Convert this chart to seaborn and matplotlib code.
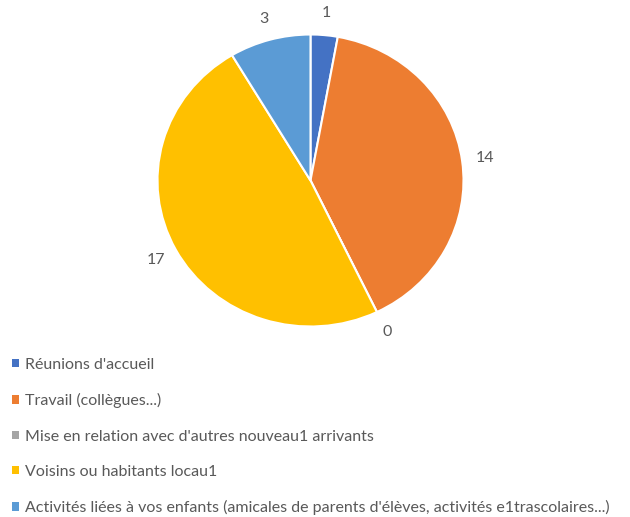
import matplotlib
matplotlib.use("Agg")
import matplotlib.pyplot as plt
import seaborn as sns

categories = [
    "Réunions d'accueil",
    "Travail (collègues...)",
    "Mise en relation avec d'autres nouveau1 arrivants",
    "Voisins ou habitants locau1",
    "Activités liées à vos enfants (amicales de parents d'élèves, activités e1trascolaires...)",
]
counts = [1, 14, 0, 17, 3]
colors = ["#4472C4", "#ED7D31", "#A5A5A5", "#FFC000", "#5B9BD5"]

sns.set_theme(style="white")
plt.rcParams["font.family"] = ["Lato", "DejaVu Sans"]
text_color = "#595959"

W, H = 630, 517
fig = plt.figure(figsize=(W / 100, H / 100), dpi=100)

# Pie axes placed by pixel geometry: centre and horizontal / vertical radii
cx, cy, rx, ry = 310.5, 180.5, 153.0, 146.0
lim = 1.25
ax = fig.add_axes([
    (cx - lim * rx) / W,
    1 - (cy + lim * ry) / H,
    2 * lim * rx / W,
    2 * lim * ry / H,
])

total = sum(counts)
wedges, texts, autotexts = ax.pie(
    counts,
    colors=colors,
    startangle=90,
    counterclock=False,
    autopct=lambda p: f"{round(p * total / 100):d}",
    pctdistance=1.15,
    wedgeprops=dict(edgecolor="white", linewidth=1.5),
    textprops=dict(color=text_color, fontsize=11.5),
)
ax.set_aspect("auto")
ax.set_xlim(-lim, lim)
ax.set_ylim(-lim, lim)

leg = fig.legend(
    wedges,
    categories,
    loc="upper left",
    bbox_to_anchor=(12 / W, 1 - 358 / H),
    frameon=False,
    fontsize=11.5,
    handlelength=0.43,
    handleheight=0.43,
    handletextpad=0.4,
    labelspacing=1.33,
    borderpad=0,
    borderaxespad=0,
)
for t in leg.get_texts():
    t.set_color(text_color)
for h in leg.legend_handles:
    h.set_edgecolor("none")

fig.savefig("out.png", dpi=100, facecolor="white")
